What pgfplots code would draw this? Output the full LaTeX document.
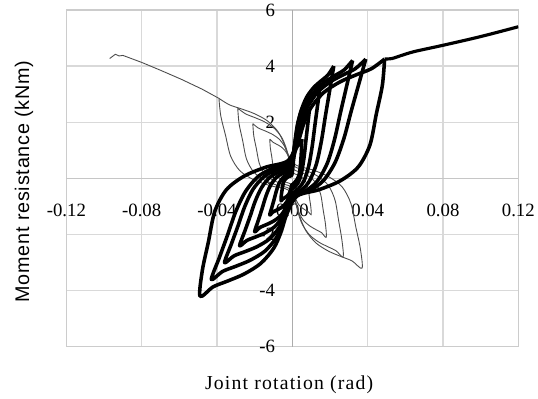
\documentclass[border=0pt]{standalone}
\usepackage{fontspec}
\setmainfont{Liberation Serif}
\newfontfamily\labsans[LetterSpace=4]{Liberation Sans}
\newfontfamily\labserif[LetterSpace=6]{Liberation Serif}
\usepackage{pgfplots}
\pgfplotsset{compat=1.18}

\tikzset{
  thickloop/.style={black, line width=3.6pt, smooth, tension=0.5, line join=round},
  thinloop/.style={black!70, line width=0.9pt, smooth, tension=0.5, line join=round},
}

\begin{document}
\begin{tikzpicture}
\begin{axis}[
    set layers,
    scale only axis,
    width=456bp, height=340bp,
    xmin=-0.12, xmax=0.12,
    ymin=-6, ymax=6,
    xtick={-0.12,-0.08,-0.04,0,0.04,0.08,0.12},
    xticklabels={-0.12,-0.08,-0.04,0.00,0.04,0.08,0.12},
    ytick={-6,-4,-2,0,2,4,6},
    yticklabels={-6,-4,-2,0,2,4,6},
    grid=major,
    grid style={gray!30, line width=1.3pt},
    axis line style={gray!40, line width=1.3pt},
    major tick length=0pt,
    tick label style={font=\fontsize{19}{22}\selectfont},
    xticklabel style={anchor=center, yshift=138bp},
    yticklabel style={anchor=east, xshift=214bp},
    xlabel={Joint rotation (rad)},
    ylabel={Moment resistance (kNm)},
    xlabel style={font=\labserif\fontsize{20}{24}\selectfont, at={(axis description cs:0.493,-0.112)}, anchor=center},
    ylabel style={font=\labsans\fontsize{20}{24}\selectfont, at={(axis description cs:-0.094,0.491)}, anchor=center},
  ]

% axis lines through the origin
\addplot[gray!65, line width=1.4pt] coordinates {(0,-6) (0,6)};
\addplot[gray!45, line width=1.3pt] coordinates {(-0.12,0) (0.12,0)};

% thin specimen: final push and loops
\addplot[black!70, line width=0.9pt] coordinates {
  (-0.097,4.27) (-0.094,4.42) (-0.092,4.36) (-0.090,4.38) (-0.080,4.13)
  (-0.070,3.85) (-0.059,3.53) (-0.048,3.18) (-0.039,2.85)
};
\addplot[thinloop] coordinates {
  (-0.039,2.85) (-0.038,2.223) (-0.0355,1.539) (-0.0328,0.798) (-0.0279,0.274) (-0.0203,-0.057) (-0.0112,-0.271) (-0.002,-0.422)
  (0.0022,-0.96) (0.0044,-1.44) (0.0074,-1.888) (0.0126,-2.304) (0.0192,-2.592) (0.0259,-2.784) (0.0318,-2.944) (0.037,-3.2)
  (0.0361,-2.496) (0.0337,-1.728) (0.0311,-0.896) (0.0265,-0.307) (0.0192,0.064) (0.0107,0.304) (0.0019,0.474)
  (-0.0023,0.855) (-0.0047,1.283) (-0.0078,1.682) (-0.0133,2.052) (-0.0203,2.309) (-0.0273,2.48) (-0.0335,2.622) (-0.039,2.85)
};
\addplot[thinloop] coordinates {
  (-0.029,2.5) (-0.0283,1.95) (-0.0264,1.35) (-0.0244,0.7) (-0.0207,0.24) (-0.0151,-0.05) (-0.0084,-0.238) (-0.0015,-0.37)
  (0.0016,-0.84) (0.0032,-1.26) (0.0054,-1.652) (0.0092,-2.016) (0.014,-2.268) (0.0189,-2.436) (0.0232,-2.576) (0.027,-2.8)
  (0.0263,-2.184) (0.0246,-1.512) (0.0227,-0.784) (0.0193,-0.269) (0.014,0.056) (0.0078,0.266) (0.0014,0.414)
  (-0.0017,0.75) (-0.0035,1.125) (-0.0058,1.475) (-0.0099,1.8) (-0.0151,2.025) (-0.0203,2.175) (-0.0249,2.3) (-0.029,2.5)
};
\addplot[thinloop] coordinates {
  (-0.021,1.95) (-0.0205,1.521) (-0.0191,1.053) (-0.0176,0.546) (-0.015,0.187) (-0.0109,-0.039) (-0.006,-0.185) (-0.0011,-0.289)
  (0.0011,-0.63) (0.0022,-0.945) (0.0036,-1.239) (0.0061,-1.512) (0.0094,-1.701) (0.0126,-1.827) (0.0155,-1.932) (0.018,-2.1)
  (0.0176,-1.638) (0.0164,-1.134) (0.0151,-0.588) (0.0129,-0.202) (0.0094,0.042) (0.0052,0.2) (0.0009,0.311)
  (-0.0013,0.585) (-0.0025,0.878) (-0.0042,1.151) (-0.0071,1.404) (-0.0109,1.58) (-0.0147,1.697) (-0.0181,1.794) (-0.021,1.95)
};
\addplot[thinloop] coordinates {
  (-0.012,1.4) (-0.0117,1.092) (-0.0109,0.756) (-0.0101,0.392) (-0.0086,0.134) (-0.0062,-0.028) (-0.0035,-0.133) (-0.0006,-0.207)
  (0.0006,-0.39) (0.0012,-0.585) (0.002,-0.767) (0.0034,-0.936) (0.0052,-1.053) (0.007,-1.131) (0.0086,-1.196) (0.01,-1.3)
  (0.0098,-1.014) (0.0091,-0.702) (0.0084,-0.364) (0.0072,-0.125) (0.0052,0.026) (0.0029,0.124) (0.0005,0.192)
  (-0.0007,0.42) (-0.0014,0.63) (-0.0024,0.826) (-0.0041,1.008) (-0.0062,1.134) (-0.0084,1.218) (-0.0103,1.288) (-0.012,1.4)
};

% thick specimen: loops and final push
\addplot[thickloop] coordinates {
  (0.049,4.25) (0.0478,3.315) (0.0446,2.295) (0.0412,1.19) (0.035,0.408) (0.0255,-0.085) (0.0141,-0.404) (0.0025,-0.629)
  (-0.0029,-1.26) (-0.0059,-1.89) (-0.0098,-2.478) (-0.0167,-3.024) (-0.0255,-3.402) (-0.0343,-3.654) (-0.0421,-3.864) (-0.049,-4.2)
  (-0.0478,-3.276) (-0.0446,-2.268) (-0.0412,-1.176) (-0.035,-0.403) (-0.0255,0.084) (-0.0141,0.399) (-0.0025,0.622)
  (0.0029,1.275) (0.0059,1.913) (0.0098,2.508) (0.0167,3.06) (0.0255,3.443) (0.0343,3.698) (0.0421,3.91) (0.049,4.25)
};
\addplot[thickloop] coordinates {
  (0.039,4.25) (0.0351,3.315) (0.0312,2.38) (0.0273,1.403) (0.0226,0.553) (0.0164,-0.085) (0.0094,-0.425) (0.002,-0.629)
  (-0.0026,-1.08) (-0.0052,-1.62) (-0.0086,-2.124) (-0.0146,-2.592) (-0.0224,-2.916) (-0.0301,-3.132) (-0.037,-3.312) (-0.043,-3.6)
  (-0.0387,-2.808) (-0.0344,-2.016) (-0.0301,-1.188) (-0.0249,-0.468) (-0.0181,0.072) (-0.0103,0.36) (-0.0022,0.533)
  (0.0023,1.275) (0.0047,1.913) (0.0078,2.508) (0.0133,3.06) (0.0203,3.443) (0.0273,3.698) (0.0335,3.91) (0.039,4.25)
};
\addplot[thickloop] coordinates {
  (0.032,4.2) (0.0288,3.276) (0.0256,2.352) (0.0224,1.386) (0.0186,0.546) (0.0134,-0.084) (0.0077,-0.42) (0.0016,-0.622)
  (-0.0022,-0.9) (-0.0043,-1.35) (-0.0072,-1.77) (-0.0122,-2.16) (-0.0187,-2.43) (-0.0252,-2.61) (-0.031,-2.76) (-0.036,-3.0)
  (-0.0324,-2.34) (-0.0288,-1.68) (-0.0252,-0.99) (-0.0209,-0.39) (-0.0151,0.06) (-0.0086,0.3) (-0.0018,0.444)
  (0.0019,1.26) (0.0038,1.89) (0.0064,2.478) (0.0109,3.024) (0.0166,3.402) (0.0224,3.654) (0.0275,3.864) (0.032,4.2)
};
\addplot[thickloop] coordinates {
  (0.022,4.0) (0.0198,3.12) (0.0176,2.24) (0.0154,1.32) (0.0128,0.52) (0.0092,-0.08) (0.0053,-0.4) (0.0011,-0.592)
  (-0.0017,-0.72) (-0.0034,-1.08) (-0.0056,-1.416) (-0.0095,-1.728) (-0.0146,-1.944) (-0.0196,-2.088) (-0.0241,-2.208) (-0.028,-2.4)
  (-0.0252,-1.872) (-0.0224,-1.344) (-0.0196,-0.792) (-0.0162,-0.312) (-0.0118,0.048) (-0.0067,0.24) (-0.0014,0.355)
  (0.0013,1.2) (0.0026,1.8) (0.0044,2.36) (0.0075,2.88) (0.0114,3.24) (0.0154,3.48) (0.0189,3.68) (0.022,4.0)
};
\addplot[thickloop] coordinates {
  (0.015,3.4) (0.0135,2.652) (0.012,1.904) (0.0105,1.122) (0.0087,0.442) (0.0063,-0.068) (0.0036,-0.34) (0.0008,-0.503)
  (-0.0012,-0.57) (-0.0024,-0.855) (-0.004,-1.121) (-0.0068,-1.368) (-0.0104,-1.539) (-0.014,-1.653) (-0.0172,-1.748) (-0.02,-1.9)
  (-0.018,-1.482) (-0.016,-1.064) (-0.014,-0.627) (-0.0116,-0.247) (-0.0084,0.038) (-0.0048,0.19) (-0.001,0.281)
  (0.0009,1.02) (0.0018,1.53) (0.003,2.006) (0.0051,2.448) (0.0078,2.754) (0.0105,2.958) (0.0129,3.128) (0.015,3.4)
};
\addplot[thickloop] coordinates {
  (0.009,2.4) (0.0081,1.872) (0.0072,1.344) (0.0063,0.792) (0.0052,0.312) (0.0038,-0.048) (0.0022,-0.24) (0.0005,-0.355)
  (-0.0007,-0.39) (-0.0014,-0.585) (-0.0024,-0.767) (-0.0041,-0.936) (-0.0062,-1.053) (-0.0084,-1.131) (-0.0103,-1.196) (-0.012,-1.3)
  (-0.0108,-1.014) (-0.0096,-0.728) (-0.0084,-0.429) (-0.007,-0.169) (-0.005,0.026) (-0.0029,0.13) (-0.0006,0.192)
  (0.0005,0.72) (0.0011,1.08) (0.0018,1.416) (0.0031,1.728) (0.0047,1.944) (0.0063,2.088) (0.0077,2.208) (0.009,2.4)
};
\addplot[thickloop] coordinates {
  (0.005,1.4) (0.0049,1.092) (0.0046,0.756) (0.0042,0.392) (0.0036,0.134) (0.0026,-0.028) (0.0014,-0.133) (0.0003,-0.207)
  (-0.0004,-0.24) (-0.0007,-0.36) (-0.0012,-0.472) (-0.002,-0.576) (-0.0031,-0.648) (-0.0042,-0.696) (-0.0052,-0.736) (-0.006,-0.8)
  (-0.0059,-0.624) (-0.0055,-0.432) (-0.005,-0.224) (-0.0043,-0.077) (-0.0031,0.016) (-0.0017,0.076) (-0.0003,0.118)
  (0.0003,0.42) (0.0006,0.63) (0.001,0.826) (0.0017,1.008) (0.0026,1.134) (0.0035,1.218) (0.0043,1.288) (0.005,1.4)
};
\addplot[black, line width=3.2pt, smooth] coordinates {
  (0.049,4.25) (0.053,4.27) (0.058,4.38) (0.065,4.52) (0.080,4.74) (0.100,5.05) (0.120,5.40)
};
\end{axis}
\path (-67bp,-52bp) rectangle (471bp,350bp);
\end{tikzpicture}
\end{document}
